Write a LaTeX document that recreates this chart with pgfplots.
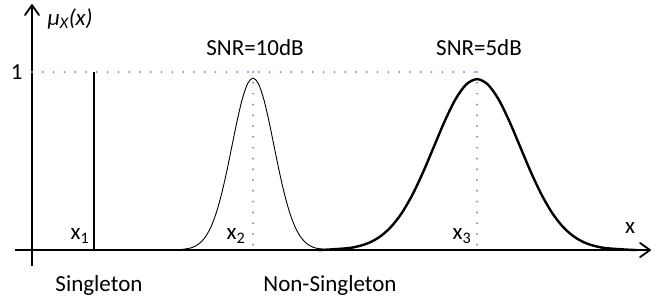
\documentclass[border=0pt]{standalone}
\usepackage{pgfplots}
\pgfplotsset{compat=1.18}
\usepackage{fontspec}
\setmainfont{Carlito}
\definecolor{dotpurple}{RGB}{160,130,210}
\tikzset{lb/.style={font=\fontsize{23}{26}\selectfont}}
\begin{document}
\begin{tikzpicture}
\begin{axis}[
  scale only axis,
  width=635pt, height=261pt,
  xmin=-17, xmax=618, ymin=-0.09, ymax=1.376,
  axis lines=none,
  ticks=none,
  clip=false,
]
% invisible bounding box (660x301)
\path (axis cs:-32,-0.2865) rectangle (axis cs:628,1.4045);
% axes
\addplot[black, line width=2.2pt] coordinates {(-17,0) (617,0)};
\addplot[black, line width=2.2pt] coordinates {(0,-0.09) (0,1.37)};
% arrow heads
\addplot[black, line width=1.8pt, line join=round, line cap=round]
  coordinates {(608,0.04) (618,0) (608,-0.04)};
\addplot[black, line width=1.8pt, line join=round, line cap=round]
  coordinates {(-7,1.32) (0,1.376) (7,1.32)};
% dotted guides
\addplot[dotpurple, line width=2.2pt, line cap=round, dash pattern=on 0pt off 10.8pt]
  coordinates {(0,1) (445,1)};
\addplot[dotpurple, line width=2.2pt, line cap=round, dash pattern=on 0pt off 10.8pt]
  coordinates {(221,1) (221,0)};
\addplot[dotpurple, line width=2.2pt, line cap=round, dash pattern=on 0pt off 10.8pt]
  coordinates {(445,1) (445,0)};
% singleton
\addplot[black, line width=1.3pt] coordinates {(62,0) (62,1)};
% SNR=10dB thin gaussian
\addplot[black, line width=0.9pt, smooth] coordinates {
(140,0) (147.5,0.0021) (158,0.0107) (163.25,0.0220) (168.5,0.0424) (173.75,0.0769)
(179,0.1307) (184.25,0.2089) (189.5,0.3137) (194.75,0.4422) (200,0.5859)
(205.25,0.7291) (210.5,0.8525) (215.75,0.9362) (221,0.966)
(226.25,0.9362) (231.5,0.8525) (236.75,0.7291) (242,0.5859) (247.25,0.4422)
(252.5,0.3137) (257.75,0.2089) (263,0.1307) (268.25,0.0769) (273.5,0.0424)
(278.75,0.0220) (284,0.0107) (294.5,0.0021) (302,0)};
% SNR=5dB thick gaussian
\addplot[black, line width=2.4pt, smooth] coordinates {
(285,0) (294.5,0.0021) (316,0.0107) (326.75,0.0219) (337.5,0.0421) (348.25,0.0764)
(359,0.1299) (369.75,0.2076) (380.5,0.3117) (391.25,0.4395) (402,0.5822)
(412.75,0.7246) (423.5,0.8472) (434.25,0.9304) (445,0.96)
(455.75,0.9304) (466.5,0.8472) (477.25,0.7246) (488,0.5822) (498.75,0.4395)
(509.5,0.3117) (520.25,0.2076) (531,0.1299) (541.75,0.0764) (552.5,0.0421)
(563.25,0.0219) (574,0.0107) (595.5,0.0021) (605,0)};
% labels
\node[lb, anchor=east] at (axis cs:-6,1) {1};
\node[lb, anchor=west] at (axis cs:12,1.30) {\itshape μ\textsubscript{X}(x)};
\node[lb] at (axis cs:48,0.079) {x\textsubscript{1}};
\node[lb] at (axis cs:204,0.079) {x\textsubscript{2}};
\node[lb] at (axis cs:430,0.079) {x\textsubscript{3}};
\node[lb] at (axis cs:598,0.124) {x};
\node[lb] at (axis cs:67,-0.197) {Singleton};
\node[lb] at (axis cs:298,-0.197) {Non-Singleton};
\node[lb] at (axis cs:223,1.135) {SNR=10dB};
\node[lb] at (axis cs:447,1.135) {SNR=5dB};
\end{axis}
\end{tikzpicture}
\end{document}
